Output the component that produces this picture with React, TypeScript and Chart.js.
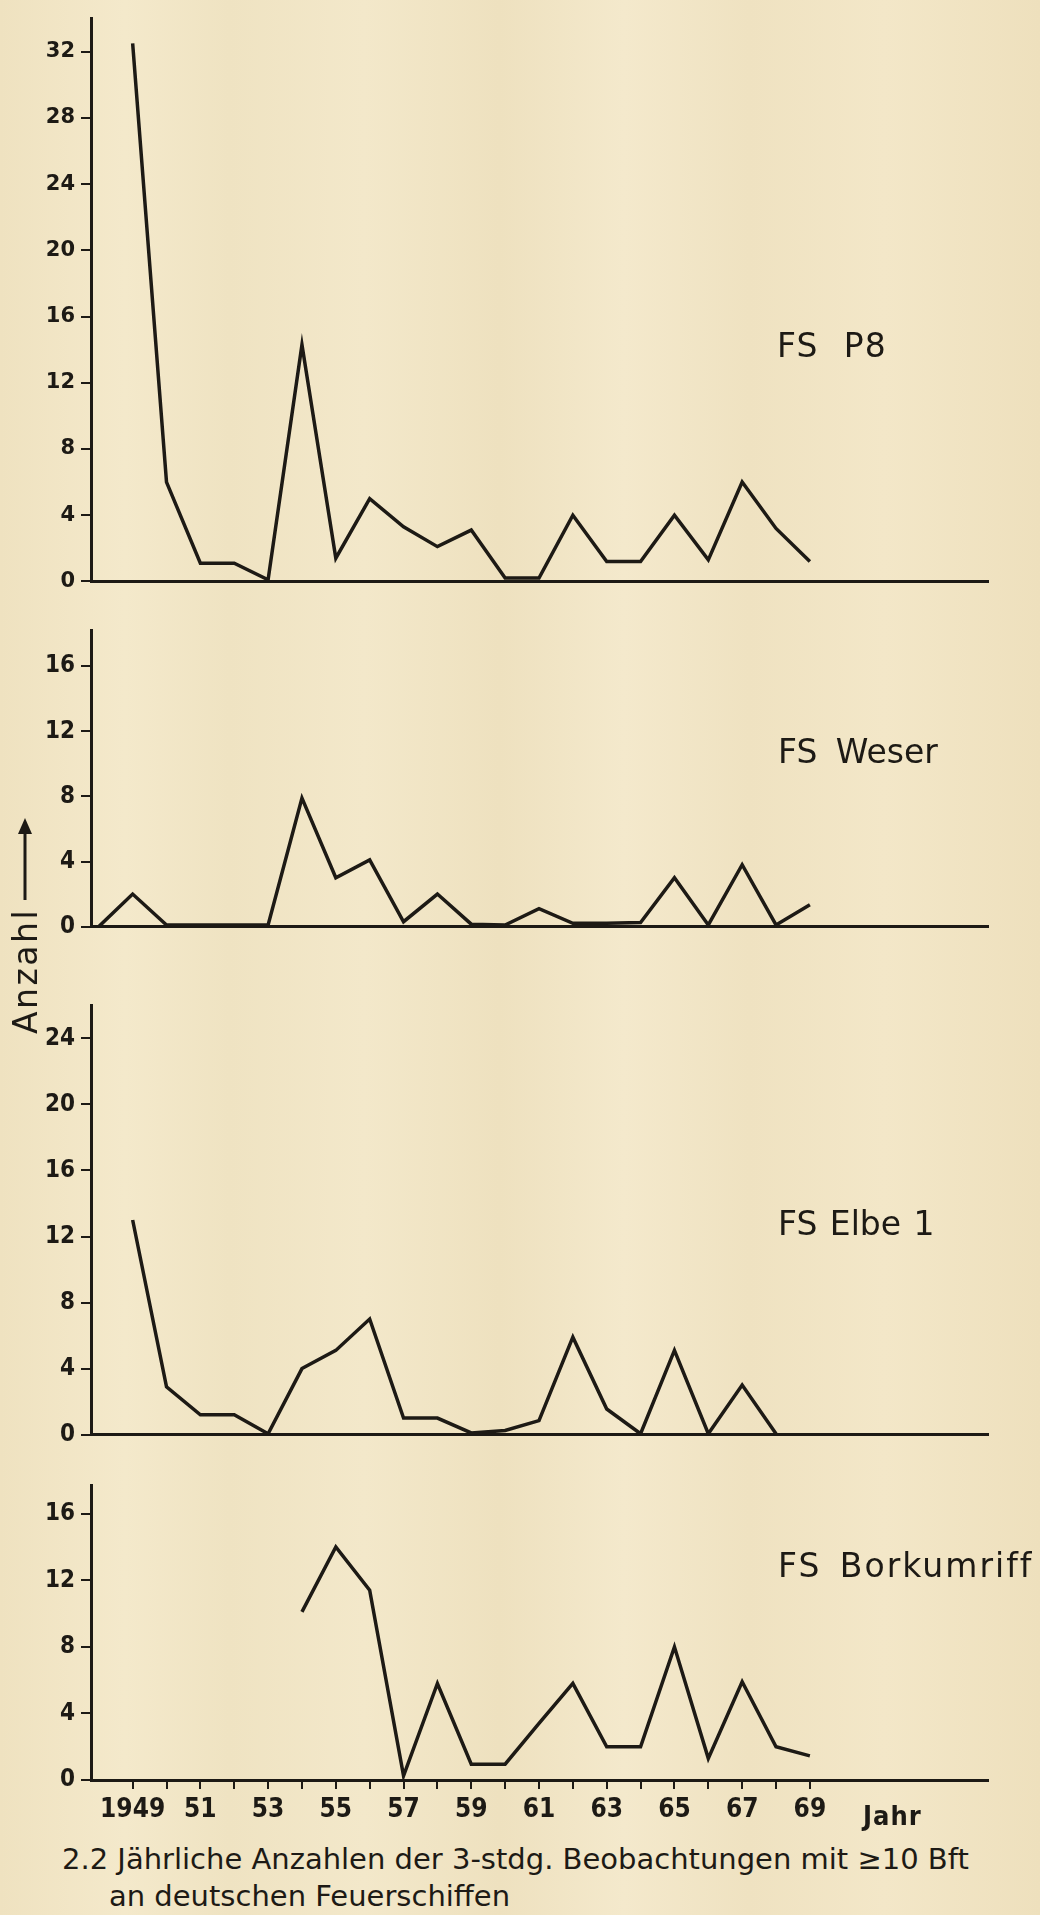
import React, { useEffect, useRef } from "react";
import { Chart, registerables } from "chart.js";

Chart.register(...registerables);

// ---------- DATA ----------
const years = [
  1948, 1949, 1950, 1951, 1952, 1953, 1954, 1955, 1956, 1957, 1958,
  1959, 1960, 1961, 1962, 1963, 1964, 1965, 1966, 1967, 1968, 1969,
];

const fsP8 = [
  null, 32.5, 6, 1.1, 1.1, 0.1, 14.3, 1.4, 5, 3.3, 2.1,
  3.1, 0.2, 0.2, 4, 1.2, 1.2, 4, 1.3, 6, 3.2, 1.2,
];
const fsWeser = [
  0, 2, 0.1, 0.1, 0.1, 0.1, 7.9, 3, 4.1, 0.3, 2,
  0.15, 0.1, 1.1, 0.2, 0.2, 0.25, 3, 0.1, 3.8, 0.1, 1.35,
];
const fsElbe1 = [
  null, 13, 2.9, 1.2, 1.2, 0.05, 4, 5.1, 7, 1, 1,
  0.1, 0.25, 0.85, 5.9, 1.55, 0.05, 5.1, 0.05, 3, 0.05, null,
];
const fsBorkumriff = [
  null, null, null, null, null, null, 10.1, 14, 11.4, 0.25, 5.8,
  0.95, 0.95, 3.4, 5.8, 2, 2, 8, 1.3, 5.9, 2, 1.45,
];

const yTicksP8 = [0, 4, 8, 12, 16, 20, 24, 28, 32];
const yTicksWeser = [0, 4, 8, 12, 16];
const yTicksElbe = [0, 4, 8, 12, 16, 20, 24];
const yTicksBorkum = [0, 4, 8, 12, 16];

const xTickYears = [
  1949, 1950, 1951, 1952, 1953, 1954, 1955, 1956, 1957, 1958, 1959,
  1960, 1961, 1962, 1963, 1964, 1965, 1966, 1967, 1968, 1969,
];
const xTickLabels = [
  "1949", "", "51", "", "53", "", "55", "", "57", "", "59",
  "", "61", "", "63", "", "65", "", "67", "", "69",
];

const panelNames = ["FS P8", "FS Weser", "FS Elbe 1", "FS Borkumriff"];
const yAxisTitle = "Anzahl";
const xAxisTitle = "Jahr";
const captionLine1 = "2.2 Jährliche Anzahlen der 3-stdg. Beobachtungen mit ≥10 Bft";
const captionLine2 = "an deutschen Feuerschiffen";

// ---------- STYLE ----------
const INK = "#1d1a15";
const PAPER = "#f2e6c6";
const X_MIN = 1947.77;
const X_MAX = 1974.26;
const COND = "'DejaVu Sans Condensed', 'DejaVu Sans', sans-serif";

type PanelSpec = {
  values: (number | null)[];
  yTicks: number[];
  yMax: number;
  top: number;
  height: number;
  padTop: number;
  xHeight: number;
  showX: boolean;
  yFont: { family: string; size: number; weight: string };
};

const condFont = { family: COND, size: 24, weight: "bold" };

const panels: PanelSpec[] = [
  { values: fsP8, yTicks: yTicksP8, yMax: 34.0, top: 0, height: 600, padTop: 10, xHeight: 8, showX: false,
    yFont: { family: "'DejaVu Sans', sans-serif", size: 21, weight: "bold" } },
  { values: fsWeser, yTicks: yTicksWeser, yMax: 18.2, top: 610, height: 337, padTop: 15, xHeight: 15, showX: false, yFont: condFont },
  { values: fsElbe1, yTicks: yTicksElbe, yMax: 26.0, top: 985, height: 470, padTop: 18, xHeight: 15, showX: false, yFont: condFont },
  { values: fsBorkumriff, yTicks: yTicksBorkum, yMax: 17.7, top: 1465, height: 375, padTop: 15, xHeight: 60, showX: true, yFont: condFont },
];

function makeConfig(p: PanelSpec): any {
  return {
    type: "line",
    data: {
      datasets: [
        {
          data: years.map((x, i) => ({ x, y: p.values[i] })),
          borderColor: INK,
          borderWidth: 3.5,
          pointRadius: 0,
          tension: 0,
          spanGaps: false,
          borderJoinStyle: "miter",
          fill: false,
        },
      ],
    },
    options: {
      animation: false,
      responsive: false,
      maintainAspectRatio: false,
      devicePixelRatio: 1,
      layout: { padding: { top: p.padTop, right: 52, left: 0, bottom: 0 } },
      plugins: {
        legend: { display: false },
        tooltip: { enabled: false },
        title: { display: false },
      },
      scales: {
        x: {
          type: "linear",
          min: X_MIN,
          max: X_MAX,
          afterBuildTicks: (s: any) => {
            s.ticks = xTickYears.map((v) => ({ value: v }));
          },
          afterFit: (s: any) => {
            s.height = p.xHeight;
          },
          grid: {
            display: true,
            drawOnChartArea: false,
            drawTicks: p.showX,
            tickLength: 9,
            color: INK,
            lineWidth: 2,
          },
          border: { display: true, color: INK, width: 3 },
          ticks: {
            display: p.showX,
            autoSkip: false,
            maxRotation: 0,
            padding: 6,
            color: INK,
            font: { family: COND, size: 26, weight: "bold" },
            callback: (_v: any, i: number) => xTickLabels[i],
          },
        },
        y: {
          type: "linear",
          min: 0,
          max: p.yMax,
          afterBuildTicks: (s: any) => {
            s.ticks = p.yTicks.map((v) => ({ value: v }));
          },
          afterFit: (s: any) => {
            s.width = 91;
          },
          grid: {
            display: true,
            drawOnChartArea: false,
            drawTicks: true,
            tickLength: 10,
            color: INK,
            lineWidth: 2,
          },
          border: { display: true, color: INK, width: 3 },
          ticks: {
            color: INK,
            padding: 6,
            font: p.yFont,
            callback: (v: any) => String(v),
          },
        },
      },
    },
  };
}

function Panel({ spec }: { spec: PanelSpec }) {
  const ref = useRef<HTMLCanvasElement>(null);
  useEffect(() => {
    const chart = new Chart(ref.current as HTMLCanvasElement, makeConfig(spec));
    return () => chart.destroy();
  }, [spec]);
  return (
    <canvas
      ref={ref}
      width={1040}
      height={spec.height}
      style={{ position: "absolute", left: 0, top: spec.top, width: 1040, height: spec.height, display: "block" }}
    />
  );
}

function Label(props: {
  x: number;
  baseline: number;
  size: number;
  text: string;
  family?: string;
  weight?: string | number;
  letterSpacing?: number;
  wordSpacing?: number;
}) {
  const { x, baseline, size, text } = props;
  return (
    <div
      style={{
        position: "absolute",
        left: x,
        top: baseline - 0.846 * size,
        fontSize: size,
        lineHeight: `${size}px`,
        fontFamily: props.family ?? "'DejaVu Sans', sans-serif",
        fontWeight: props.weight ?? "normal",
        letterSpacing: props.letterSpacing ?? 0,
        wordSpacing: props.wordSpacing ?? 0,
        whiteSpace: "pre",
        color: INK,
      }}
    >
      {text}
    </div>
  );
}

export default function App() {
  useEffect(() => {
    document.body.style.margin = "0";
    document.body.style.background = PAPER;
  }, []);

  const axisW = 220;
  const axisH = 40;
  const axisCx = 25;
  const axisCy = 924;

  return (
    <div
      style={{
        position: "absolute",
        left: 0,
        top: 0,
        width: 1040,
        height: 1915,
        overflow: "hidden",
        background:
          "linear-gradient(90deg, #efe2c0 0%, #f4e9cb 12%, #efe3c2 22%, #f3e8ca 35%, #eee1bf 48%, #f4e9cc 60%, #efe2c1 72%, #f3e7c8 85%, #eee0bd 100%)",
      }}
    >
      {panels.map((p, i) => (
        <Panel key={i} spec={p} />
      ))}

      <Label x={777} baseline={357} size={33} text={panelNames[0]} wordSpacing={14} letterSpacing={1} />
      <Label x={778} baseline={763} size={33} text={panelNames[1]} wordSpacing={8} />
      <Label x={778} baseline={1235} size={33} text={panelNames[2]} wordSpacing={2} />
      <Label x={778} baseline={1577} size={33} text={panelNames[3]} wordSpacing={6} letterSpacing={2} />

      <div
        style={{
          position: "absolute",
          left: axisCx - axisW / 2,
          top: axisCy - axisH / 2,
          width: axisW,
          height: axisH,
          transform: "rotate(-90deg)",
          display: "flex",
          alignItems: "center",
          whiteSpace: "nowrap",
          color: INK,
          fontFamily: "'DejaVu Sans', sans-serif",
          fontSize: 33,
          letterSpacing: 2.5,
        }}
      >
        <span>{yAxisTitle}</span>
        <svg width={82} height={20} style={{ marginLeft: 8 }}>
          <line x1={0} y1={10} x2={70} y2={10} stroke={INK} strokeWidth={3} />
          <polygon points="82,10 66,3 66,17" fill={INK} />
        </svg>
      </div>

      <Label
        x={863}
        baseline={1825}
        size={27}
        text={xAxisTitle}
        family={COND}
        weight="bold"
        letterSpacing={1}
      />

      <Label x={62} baseline={1870} size={29} text={captionLine1} />
      <Label x={109} baseline={1907} size={29} text={captionLine2} />
    </div>
  );
}
